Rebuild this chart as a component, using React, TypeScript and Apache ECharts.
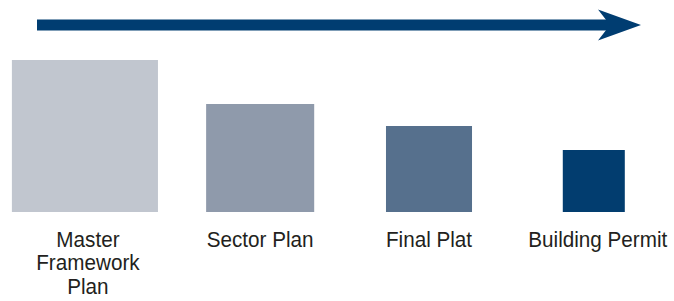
import React, { useEffect, useRef } from "react";
import * as echarts from "echarts";

// Stages of the planning process (left to right)
const stages = ["Master\nFramework\nPlan", "Sector Plan", "Final Plat", "Building Permit"];
// Position of each stage across the timeline (% of width)
const positions = [12.6, 38.6, 63.65, 88.1];
// Relative scope of each stage (height, % of largest)
const heights = [100, 71.1, 56.6, 40.8];
// Relative width of each stage block (same units as heights)
const widths = [96.1, 71.1, 56.6, 40.8];
const colors = ["#c1c6cf", "#8f9aab", "#56708d", "#023d6f"];

const FONT = "'Liberation Sans', Arial, Helvetica, sans-serif";

export default function App() {
  const ref = useRef<HTMLDivElement>(null);

  useEffect(() => {
    if (!ref.current) return;
    const chart = echarts.init(ref.current, undefined, { renderer: "svg" });
    const data = stages.map((s, i) => [positions[i], heights[i], widths[i], i]);
    chart.setOption({
      animation: false,
      grid: { left: 0, right: 0, top: 60, bottom: 89 },
      xAxis: { type: "value", min: 0, max: 100, show: false },
      yAxis: { type: "value", min: 0, max: 100, show: false },
      graphic: [
        {
          type: "line",
          shape: { x1: 37, y1: 25, x2: 612, y2: 25 },
          style: { stroke: "#003d71", lineWidth: 11 },
        },
        {
          type: "polygon",
          shape: {
            points: [
              [598, 9.5],
              [641, 25],
              [598, 40.5],
              [610, 25],
            ],
          },
          style: { fill: "#003d71" },
        },
      ],
      series: [
        {
          type: "custom",
          clip: false,
          data,
          renderItem: (params: any, api: any) => {
            const idx = api.value(3);
            const base = api.coord([api.value(0), 0]);
            const h = api.size([0, api.value(1)])[1];
            const w = api.size([0, api.value(2)])[1];
            return {
              type: "group",
              children: [
                {
                  type: "rect",
                  shape: { x: base[0] - w / 2, y: base[1] - h, width: w, height: h },
                  style: { fill: colors[idx] },
                },
                {
                  type: "text",
                  x: base[0] + (idx === 3 ? 4 : idx === 0 ? 3 : 0),
                  y: base[1] + 16,
                  scaleX: 0.94,
                  style: {
                    text: stages[idx],
                    x: 0,
                    y: 0,
                    align: "center",
                    verticalAlign: "top",
                    fontSize: 22,
                    lineHeight: 23.5,
                    fontFamily: FONT,
                    fill: "#231f20",
                  },
                },
              ],
            };
          },
        },
      ],
    });
    return () => chart.dispose();
  }, []);

  return (
    <div
      ref={ref}
      style={{ position: "fixed", left: 0, top: 0, width: 674, height: 301, background: "#fff" }}
    />
  );
}
